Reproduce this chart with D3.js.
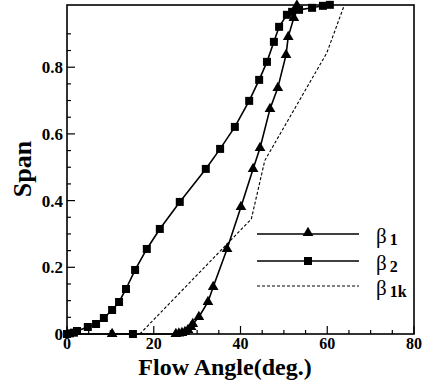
<!DOCTYPE html>
<html>
<head>
<meta charset="utf-8">
<script src="https://cdn.jsdelivr.net/npm/d3@7"></script>
<style>
  body { margin: 0; background: #fff; }
  text { font-family: "Liberation Serif", "DejaVu Serif", serif; }
</style>
</head>
<body>
<svg width="429" height="381"></svg>
<script>
// beta 1 (triangles): [flow angle, span]
var beta1 = [[10.4,0],[25.1,0],[25.8,0.002],[26.5,0.003],[27.2,0.006],[27.9,0.012],[28.6,0.021],
  [29.0,0.030],[30.4,0.051],[32.5,0.096],[33.7,0.141],[36.9,0.255],[40.1,0.381],[42.9,0.495],
  [44.5,0.558],[46.8,0.675],[48.6,0.738],[50.5,0.837],[51.0,0.891],[52.3,0.948],[53.0,0.985]];
// beta 2 (squares)
var beta2 = [[15.2,0],[0,0],[0.7,0.002],[1.6,0.004],[2.3,0.009],[4.8,0.021],[6.7,0.03],[8.5,0.048],
  [10.4,0.072],[12.0,0.096],[13.6,0.135],[15.7,0.192],[18.4,0.255],[21.4,0.315],[26.0,0.396],
  [32.0,0.495],[35.3,0.555],[38.7,0.621],[42.0,0.699],[44.3,0.762],[46.1,0.816],[47.7,0.876],
  [48.9,0.921],[50.7,0.957],[51.9,0.966],[53.5,0.972],[56.5,0.978],[59.0,0.984],[60.6,0.987]];
// beta 1k (dashed)
var beta1k = [[16.8,0],[42.5,0.345],[45.6,0.52],[59.9,0.843],[63.9,0.985]];

var xTicks = [0, 20, 40, 60, 80];
var yTicks = [0, 0.2, 0.4, 0.6, 0.8];
var legendNames = [["\u03b2", "1"], ["\u03b2", "2"], ["\u03b2", "1k"]];

var pLeft = 67, pRight = 414, pTop = 5, pBottom = 334;
var svg = d3.select("svg");

var x = d3.scaleLinear().domain([0, 80]).range([pLeft, pRight]);
var y = d3.scaleLinear().domain([0, 0.9865]).range([pBottom, pTop]);

// frame
svg.append("rect")
  .attr("x", pLeft).attr("y", pTop)
  .attr("width", pRight - pLeft).attr("height", pBottom - pTop)
  .attr("fill", "none").attr("stroke", "#000").attr("stroke-width", 1.6);

// x axis ticks (inside)
var xMinor = d3.range(0, 81, 5);
svg.append("g").selectAll("line").data(xMinor).enter().append("line")
  .attr("x1", d => x(d)).attr("x2", d => x(d))
  .attr("y1", pBottom).attr("y2", d => pBottom - (d % 20 === 0 ? 8 : 4))
  .attr("stroke", "#000").attr("stroke-width", 1.2);
svg.append("g").selectAll("text").data(xTicks).enter().append("text")
  .attr("x", d => x(d)).attr("y", 349)
  .attr("text-anchor", "middle")
  .attr("font-size", 16).attr("font-weight", "bold")
  .text(d => d);

// y axis ticks (inside)
var yMinor = d3.range(0, 19).map(i => i * 0.05);
svg.append("g").selectAll("line").data(yMinor).enter().append("line")
  .attr("x1", pLeft).attr("x2", (d, i) => pLeft + (i % 4 === 0 ? 8 : 4))
  .attr("y1", d => y(d)).attr("y2", d => y(d))
  .attr("stroke", "#000").attr("stroke-width", 1.2);
svg.append("g").selectAll("text").data(yTicks).enter().append("text")
  .attr("x", 63).attr("y", d => y(d) + 6)
  .attr("text-anchor", "end")
  .attr("font-size", 17).attr("font-weight", "bold")
  .text(d => d === 0 ? "0" : d.toFixed(1));

// axis titles
svg.append("text")
  .attr("x", 225).attr("y", 375)
  .attr("text-anchor", "middle")
  .attr("font-size", 24).attr("font-weight", "bold")
  .text("Flow Angle(deg.)");
svg.append("text")
  .attr("transform", "translate(31,169) rotate(-90)")
  .attr("text-anchor", "middle")
  .attr("font-size", 26).attr("font-weight", "bold")
  .text("Span");

var line = d3.line().x(d => x(d[0])).y(d => y(d[1]));
var plot = svg.append("g");

plot.append("path").datum(beta1k).attr("d", line)
  .attr("fill", "none").attr("stroke", "#000").attr("stroke-width", 1.1)
  .attr("stroke-dasharray", "3,2");
plot.append("path").datum(beta2).attr("d", line)
  .attr("fill", "none").attr("stroke", "#000").attr("stroke-width", 1.6);
plot.append("path").datum(beta1).attr("d", line)
  .attr("fill", "none").attr("stroke", "#000").attr("stroke-width", 1.6);

var sq = d3.symbol().type(d3.symbolSquare).size(64);
var tri = d3.symbol().type(d3.symbolTriangle).size(50);

plot.selectAll(".sq").data(beta2).enter().append("path")
  .attr("transform", d => "translate(" + x(d[0]) + "," + y(d[1]) + ")")
  .attr("d", sq).attr("fill", "#000");
plot.selectAll(".tri").data(beta1).enter().append("path")
  .attr("transform", d => "translate(" + x(d[0]) + "," + y(d[1]) + ")")
  .attr("d", tri).attr("fill", "#000");

// legend
var legY = [234, 261, 286];
var leg = svg.append("g");
legendNames.forEach(function(n, i) {
  var l = leg.append("line")
    .attr("x1", 257).attr("x2", 359)
    .attr("y1", legY[i]).attr("y2", legY[i])
    .attr("stroke", "#000");
  if (i === 2) l.attr("stroke-width", 1.1).attr("stroke-dasharray", "3,2");
  else l.attr("stroke-width", 1.6);
  if (i === 0) leg.append("path").attr("transform", "translate(308," + (legY[i] - 1) + ")").attr("d", tri);
  if (i === 1) leg.append("path").attr("transform", "translate(308," + legY[i] + ")").attr("d", sq);
  var t = leg.append("text")
    .attr("x", 376).attr("y", legY[i] + 9)
    .attr("font-size", 21);
  t.append("tspan").text(n[0]);
  t.append("tspan").attr("dx", 3).attr("dy", 2)
    .attr("font-size", 16).attr("font-weight", "bold").text(n[1]);
});
</script>
</body>
</html>
